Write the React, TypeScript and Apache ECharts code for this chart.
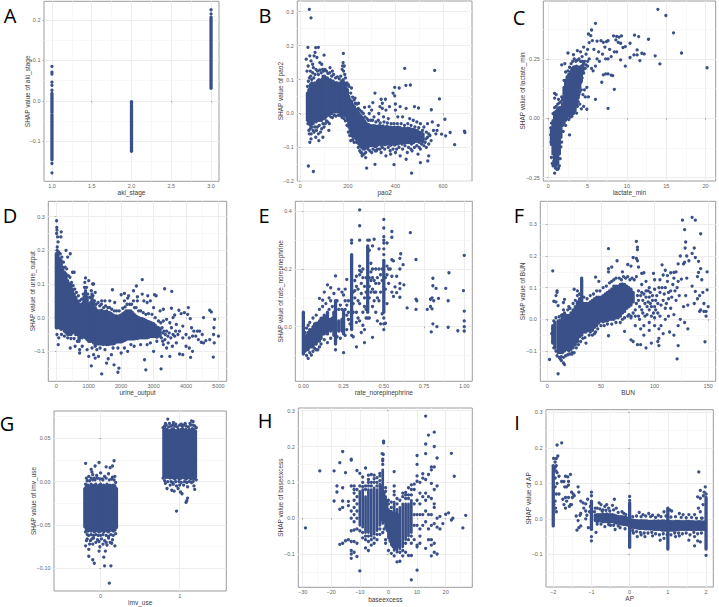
import React, { useEffect, useRef } from "react";
import * as echarts from "echarts";

// ---------- Panel titles and tick values ----------
const panelLetters = ["A", "B", "C", "D", "E", "F", "G", "H", "I"];
const xNames = ["aki_stage", "pao2", "lactate_min", "urine_output", "rate_norepinephrine", "BUN", "imv_use", "baseexcess", "AP"];
const yNames = xNames.map((n) => "SHAP value of " + n);

const xTicks = [
  [1, 1.5, 2, 2.5, 3],
  [0, 200, 400, 600],
  [0, 5, 10, 15, 20],
  [0, 1000, 2000, 3000, 4000, 5000],
  [0, 0.25, 0.5, 0.75, 1],
  [0, 50, 100, 150],
  [0, 1],
  [-30, -20, -10, 0, 10, 20],
  [-2, -1, 0, 1, 2],
];
const xMinor = [
  [1.25, 1.75, 2.25, 2.75],
  [100, 300, 500, 700],
  [2.5, 7.5, 12.5, 17.5],
  [500, 1500, 2500, 3500, 4500],
  [0.125, 0.375, 0.625, 0.875],
  [25, 75, 125],
  [],
  [-25, -15, -5, 5, 15, 25],
  [-1.5, -0.5, 0.5, 1.5],
];
const yTicks = [
  [-0.1, 0, 0.1, 0.2],
  [-0.2, -0.1, 0, 0.1, 0.2, 0.3],
  [-0.25, 0, 0.25],
  [-0.1, 0, 0.1, 0.2, 0.3],
  [0, 0.2, 0.4],
  [-0.1, 0, 0.1, 0.2, 0.3],
  [-0.1, -0.05, 0, 0.05],
  [-0.1, 0, 0.1, 0.2, 0.3],
  [-0.1, 0, 0.1, 0.2, 0.3],
];
const yMinor = [
  [-0.15, -0.05, 0.05, 0.15],
  [-0.15, -0.05, 0.05, 0.15, 0.25],
  [-0.125, 0.125, 0.375],
  [-0.15, -0.05, 0.05, 0.15, 0.25],
  [-0.1, 0.1, 0.3],
  [-0.15, -0.05, 0.05, 0.15, 0.25],
  [-0.075, -0.025, 0.025, 0.075],
  [-0.15, -0.05, 0.05, 0.15, 0.25],
  [-0.15, -0.05, 0.05, 0.15, 0.25],
];
const xDecimals = [1, 0, 0, 0, 2, 0, 0, 0, 0];
const yDecimals = [1, 1, 2, 1, 1, 1, 2, 1, 1];

// Axis ranges
const xRanges = [[0.9, 3.1], [-12.6, 722], [-0.64, 21.3], [-247, 5254], [-0.05, 1.05], [-6.6, 157], [-0.59, 1.59], [-31.5, 29.3], [-2.19, 2.19]];
const yRanges = [[-0.199, 0.246], [-0.2, 0.3316], [-0.264, 0.494], [-0.189, 0.3457], [-0.1893, 0.4347], [-0.1957, 0.3726], [-0.126, 0.0813], [-0.1928, 0.3075], [-0.192, 0.3073]];

// ---------- Dense clouds, as columns [x, low, high] ----------
const bandsA = [[1, -0.146, -0.034], [1, -0.028, 0.018], [2, -0.108, -0.012], [2, -0.125, -0.112], [2, -0.008, -0.002], [3, 0.031, 0.207]];
const bandsB = [
  [30, -0.02, 0.06], [36, -0.03, 0.07], [42, -0.035, 0.085], [48, -0.03, 0.09], [54, -0.03, 0.08], [60, -0.02, 0.09], [66, -0.025, 0.085], [72, -0.02, 0.095], [78, -0.02, 0.1], [84, -0.02, 0.095], [90, -0.02, 0.1],
  [96, -0.015, 0.11], [102, -0.015, 0.11], [108, -0.01, 0.105], [114, -0.005, 0.105], [120, -0.005, 0.095], [126, 0, 0.1], [132, 0, 0.095], [138, 0.005, 0.095], [144, 0.005, 0.09], [150, 0.005, 0.09],
  [156, 0.005, 0.09], [162, 0.005, 0.085], [168, 0.003, 0.09], [174, 0, 0.095], [180, -0.005, 0.1], [186, -0.005, 0.09], [192, -0.008, 0.085], [198, -0.02, 0.07], [204, -0.04, 0.05], [210, -0.055, 0.04], [216, -0.065, 0.035],
  [222, -0.07, 0.025], [228, -0.07, 0.02], [234, -0.075, 0.012], [240, -0.08, 0.008], [246, -0.09, 0], [252, -0.095, -0.005], [258, -0.1, -0.01], [264, -0.105, -0.015], [270, -0.105, -0.022], [276, -0.1, -0.028],
  [282, -0.097, -0.032], [288, -0.097, -0.033], [294, -0.094, -0.036], [300, -0.095, -0.037], [308, -0.095, -0.036], [316, -0.098, -0.037], [324, -0.094, -0.038], [332, -0.09, -0.036], [340, -0.094, -0.038], [348, -0.09, -0.037],
  [356, -0.092, -0.04], [364, -0.09, -0.038], [372, -0.09, -0.04], [380, -0.094, -0.04], [388, -0.09, -0.042], [396, -0.093, -0.04], [404, -0.09, -0.042], [412, -0.09, -0.04], [420, -0.087, -0.042], [428, -0.09, -0.045],
  [436, -0.086, -0.044], [444, -0.086, -0.045], [452, -0.086, -0.043], [460, -0.086, -0.045], [468, -0.09, -0.046], [476, -0.086, -0.047], [484, -0.082, -0.05], [492, -0.082, -0.05], [500, -0.085, -0.055], [508, -0.08, -0.056], [516, -0.084, -0.06],
];
const bandsC = [
  [0.4, -0.11, -0.04], [0.6, -0.15, -0.01], [0.8, -0.2, 0.025], [1, -0.2, 0.03], [1.2, -0.19, 0.04], [1.4, -0.15, 0.045], [1.6, -0.08, 0.045], [1.8, -0.03, 0.06], [2, -0.02, 0.13],
  [2.2, -0.008, 0.16], [2.4, 0.01, 0.175], [2.6, 0.012, 0.185], [2.8, 0.018, 0.195], [3, 0.02, 0.21], [3.2, 0.025, 0.215], [3.4, 0.032, 0.218], [3.6, 0.055, 0.22], [3.8, 0.085, 0.215], [4, 0.13, 0.215], [4.2, 0.155, 0.22], [4.4, 0.195, 0.225],
];
const bandsD = [
  [0, -0.03, 0.19], [50, -0.015, 0.19], [100, -0.03, 0.175], [150, -0.035, 0.17], [200, -0.03, 0.15], [250, -0.04, 0.135], [300, -0.045, 0.13], [350, -0.05, 0.11], [400, -0.05, 0.1], [450, -0.05, 0.1], [500, -0.045, 0.085], [550, -0.042, 0.07],
  [600, -0.05, 0.06], [650, -0.05, 0.05], [700, -0.07, 0.04], [750, -0.06, 0.038], [800, -0.06, 0.042], [850, -0.055, 0.06], [900, -0.06, 0.08], [950, -0.065, 0.06], [1000, -0.07, 0.04], [1050, -0.07, 0.045], [1100, -0.07, 0.07], [1150, -0.075, 0.05],
  [1200, -0.085, 0.03], [1250, -0.078, 0.022], [1300, -0.078, 0.02], [1350, -0.078, 0.02], [1400, -0.078, 0.022], [1450, -0.08, 0.018], [1500, -0.078, 0.018], [1550, -0.08, 0.02], [1600, -0.08, 0.016], [1650, -0.078, 0.015], [1700, -0.078, 0.012], [1750, -0.078, 0.008], [1800, -0.076, 0.005], [1850, -0.072, 0.005], [1900, -0.072, 0.004], [1950, -0.072, 0.006], [2000, -0.072, 0.008],
  [2050, -0.07, 0.012], [2100, -0.068, 0.015], [2150, -0.065, 0.02], [2200, -0.063, 0.02], [2250, -0.063, 0.02], [2300, -0.063, 0.02], [2350, -0.063, 0.015], [2400, -0.063, 0.01], [2450, -0.062, 0.005], [2500, -0.062, 0.002], [2550, -0.06, 0], [2600, -0.06, -0.003], [2650, -0.06, -0.003], [2700, -0.06, -0.005], [2750, -0.06, -0.007], [2800, -0.06, -0.01], [2850, -0.058, -0.012], [2900, -0.056, -0.014], [2950, -0.056, -0.016], [3000, -0.056, -0.018], [3050, -0.056, -0.022], [3100, -0.058, -0.028], [3150, -0.055, -0.03], [3200, -0.055, -0.033],
];
const bandsE = [
  [0, -0.095, 0.05], [0.01, -0.085, -0.04], [0.02, -0.08, -0.03], [0.03, -0.08, -0.02], [0.04, -0.07, -0.01], [0.05, -0.07, -0.01], [0.06, -0.07, 0], [0.07, -0.06, 0.01], [0.08, -0.06, 0.012], [0.09, -0.05, 0.012], [0.1, -0.05, 0.02],
  [0.11, -0.04, 0.03], [0.12, -0.025, 0.03], [0.13, -0.025, 0.04], [0.14, -0.015, 0.03], [0.15, -0.025, 0.05], [0.16, -0.01, 0.025], [0.17, -0.015, 0.025], [0.18, -0.01, 0.03], [0.19, -0.03, 0.05], [0.2, -0.06, 0.09],
  [0.22, -0.015, 0.02], [0.24, -0.015, 0.025], [0.25, -0.025, 0.055], [0.3, -0.01, 0.25], [0.4, 0.05, 0.28], [0.5, 0.05, 0.23],
];
const bandsF = [
  [5, -0.075, -0.02], [7, -0.09, -0.01], [10, -0.105, -0.005], [12, -0.105, -0.003], [14, -0.105, 0.015], [16, -0.1, 0.02], [18, -0.095, 0.012], [20, -0.1, 0.012], [22, -0.095, 0.02], [24, -0.09, 0.03], [26, -0.08, 0.04], [28, -0.07, 0.055], [30, -0.055, 0.065],
  [32, -0.05, 0.125], [34, -0.04, 0.05], [36, -0.04, 0.05], [38, -0.035, 0.05], [40, -0.04, 0.055], [42, -0.035, 0.06], [44, -0.025, 0.065], [46, -0.02, 0.07], [48, -0.012, 0.07], [50, -0.005, 0.07], [52, -0.008, 0.075], [54, -0.005, 0.08],
  [56, -0.005, 0.085], [58, 0, 0.09], [60, 0, 0.095], [62, 0, 0.105], [64, 0.005, 0.105], [66, 0.005, 0.105], [68, 0.01, 0.11], [70, 0.02, 0.112], [72, 0.025, 0.11], [74, 0.035, 0.105], [76, 0.04, 0.1], [78, 0.045, 0.095], [80, 0.055, 0.085],
];
const bandsG = [
  [-0.2, -0.052, -0.008], [-0.18, -0.056, -0.005], [-0.16, -0.057, -0.004], [-0.14, -0.056, -0.006], [-0.12, -0.057, -0.003], [-0.1, -0.056, -0.005], [-0.08, -0.058, -0.004], [-0.06, -0.056, -0.003], [-0.04, -0.057, -0.006], [-0.02, -0.058, -0.004], [0, -0.057, -0.003],
  [0.02, -0.056, -0.005], [0.04, -0.058, -0.004], [0.06, -0.056, -0.006], [0.08, -0.057, -0.003], [0.1, -0.058, -0.005], [0.12, -0.056, -0.004], [0.14, -0.056, -0.005], [0.16, -0.057, -0.004], [0.18, -0.056, -0.005], [0.2, -0.053, -0.008],
  [0.8, 0.006, 0.059], [0.82, 0.005, 0.061], [0.84, 0.005, 0.06], [0.86, 0.005, 0.058], [0.88, 0.004, 0.059], [0.9, 0.005, 0.06], [0.92, 0.004, 0.061], [0.94, 0.003, 0.059], [0.96, 0.005, 0.058], [0.98, 0.004, 0.06], [1, 0.003, 0.059],
  [1.02, 0.004, 0.06], [1.04, 0.005, 0.061], [1.06, 0.004, 0.059], [1.08, 0.003, 0.06], [1.1, 0.004, 0.058], [1.12, 0.005, 0.06], [1.14, 0.003, 0.059], [1.16, 0.004, 0.061], [1.18, 0.003, 0.06], [1.2, 0.005, 0.058],
];
const bandsH = [
  [-10, -0.02, 0.075], [-9, -0.025, 0.08], [-8, -0.04, 0.06], [-7, -0.04, 0.08], [-6, -0.05, 0.08], [-5, -0.045, 0.085], [-4, -0.035, 0.08], [-3, -0.02, 0.095], [-2.5, -0.005, 0.09], [-2, -0.015, 0.135], [-1.5, -0.01, 0.07], [-1, -0.025, 0.06], [-0.5, -0.035, 0.05],
  [0, -0.055, 0.025], [0.5, -0.065, 0.02], [1, -0.075, 0.02], [1.5, -0.08, 0.015], [2, -0.09, 0.045], [2.5, -0.085, 0.015], [3, -0.095, 0.025], [3.5, -0.08, 0.01], [4, -0.085, 0.03], [5, -0.08, 0.04], [6, -0.06, 0.04], [7, -0.05, 0.04], [8, -0.04, 0.05],
];
const bandsI = [
  [-2, -0.02, 0.15], [-1, -0.03, 0.05], [0, -0.08, 0.045], [1, -0.085, 0.03], [2, -0.085, 0.06],
  [-0.9, -0.005, 0.01], [-0.85, -0.008, 0.012], [-0.8, -0.006, 0.012], [-0.75, -0.006, 0.012], [-0.7, -0.008, 0.014], [-0.65, -0.008, 0.012], [-0.6, -0.008, 0.014], [-0.55, -0.008, 0.012], [-0.5, -0.008, 0.012], [-0.45, -0.008, 0.012], [-0.4, -0.01, 0.01], [-0.35, -0.012, 0.008], [-0.3, -0.012, 0.007], [-0.25, -0.014, 0.006], [-0.2, -0.015, 0.006], [-0.15, -0.016, 0.005], [-0.1, -0.016, 0.004], [-0.05, -0.018, 0.002],
  [0.05, -0.024, -0.003], [0.1, -0.024, -0.004], [0.15, -0.025, -0.005], [0.2, -0.026, -0.005], [0.25, -0.027, -0.006], [0.3, -0.027, -0.005], [0.35, -0.027, -0.006], [0.4, -0.028, -0.006], [0.45, -0.028, -0.006], [0.5, -0.028, -0.007], [0.55, -0.029, -0.007], [0.6, -0.029, -0.007], [0.65, -0.03, -0.006], [0.7, -0.03, -0.007], [0.75, -0.03, -0.006], [0.8, -0.03, -0.007], [0.85, -0.032, -0.006], [0.9, -0.032, -0.006], [0.95, -0.032, -0.007],
  [1.05, -0.032, -0.007], [1.1, -0.032, -0.008], [1.15, -0.032, -0.008], [1.2, -0.032, -0.007], [1.25, -0.03, -0.007], [1.3, -0.03, -0.007], [1.35, -0.03, -0.008], [1.4, -0.03, -0.008], [1.45, -0.03, -0.008], [1.5, -0.03, -0.007], [1.55, -0.03, -0.007], [1.6, -0.03, -0.008], [1.65, -0.03, -0.008], [1.7, -0.03, -0.009], [1.75, -0.03, -0.009], [1.8, -0.03, -0.008], [1.85, -0.03, -0.008], [1.9, -0.03, -0.009], [1.95, -0.03, -0.009],
];

// ---------- Individually visible points ----------
const pointsA = [[1, 0.085], [1, 0.071], [1, 0.066], [1, 0.046], [1, 0.038], [1, 0.026], [1, -0.155], [1, -0.178], [3, 0.225], [3, 0.215]];
const pointsB = [
  [38, 0.307], [45, 0.282], [32, 0.195], [65, 0.194], [76, 0.195], [34, -0.155], [55, -0.171], [439, 0.133], [565, 0.127], [181, 0.177], [585, 0.043], [444, 0.083], [463, 0.084], [416, 0.075], [397, 0.077], [314, 0.06], [390, 0.06], [397, 0.052],
  [608, -0.017], [649, -0.092], [690, -0.052], [692, -0.056], [630, -0.056], [611, -0.066], [594, -0.061], [279, -0.161], [314, -0.15], [394, -0.151], [468, -0.176], [505, -0.145], [536, -0.14], [551, 0.011], [25, 0.16], [33, 0.14], [40, 0.17], [45, 0.155], [52, 0.145],
  [58, 0.17], [62, 0.18], [70, 0.165], [82, 0.15], [90, 0.145], [100, 0.172], [42, 0.125], [55, 0.135], [28, 0.125], [125, 0.135], [135, 0.125], [180, 0.15], [185, 0.14], [40, -0.085], [45, -0.075], [78, -0.08], [95, -0.07], [65, -0.07], [120, -0.05],
  [305, 0.032], [290, 0.02], [335, 0.02], [345, 0.03], [358, 0.042], [340, 0.042], [345, 0.015], [360, 0.01], [375, 0.02], [400, 0.028], [400, 0.01], [410, -0.01], [420, 0.02], [445, 0.015], [480, 0.02], [497, 0.016], [430, -0.01], [460, -0.015], [475, -0.02],
  [490, -0.025], [505, -0.03], [520, -0.04], [535, -0.03], [555, -0.025], [580, -0.035], [560, -0.05], [570, -0.06], [575, -0.05], [545, -0.065], [550, -0.08], [540, -0.09], [530, -0.1], [540, -0.125], [505, -0.105], [495, -0.12], [470, -0.11], [450, -0.115], [445, -0.135], [420, -0.125],
  [400, -0.115], [380, -0.12], [360, -0.125], [340, -0.115], [320, -0.11], [300, -0.115], [275, -0.13], [260, -0.125], [255, -0.115], [290, 0], [310, -0.01], [330, 0], [350, -0.01], [370, -0.015], [270, 0.018], [245, 0.03], [230, 0.045], [215, 0.075], [205, 0.08], [300, 0.01],
  // fringe of the left cloud
  [30, 0.08], [34, 0.095], [38, 0.105], [44, 0.11], [48, 0.1], [52, 0.12], [57, 0.105], [62, 0.115], [66, 0.13], [72, 0.125], [76, 0.115], [82, 0.128], [88, 0.12], [94, 0.13], [98, 0.125], [104, 0.13], [110, 0.125], [116, 0.118], [124, 0.12], [132, 0.11], [140, 0.115], [148, 0.105], [156, 0.108], [164, 0.102], [170, 0.11], [176, 0.13], [178, 0.14], [182, 0.125], [187, 0.115], [190, 0.105], [196, 0.09], [202, 0.085],
  [212, 0.06], [220, 0.048], [226, 0.04], [232, 0.03], [238, 0.028], [244, 0.015], [250, 0.01], [258, 0.005], [265, 0], [272, -0.01], [280, -0.015], [286, -0.02], [296, -0.02], [304, -0.02], [318, -0.025], [328, -0.02], [336, -0.028], [352, -0.025], [366, -0.028], [382, -0.03], [394, -0.03], [408, -0.03], [424, -0.03], [438, -0.035], [452, -0.03], [466, -0.035], [482, -0.04], [498, -0.042], [514, -0.05], [530, -0.055], [540, -0.06],
  [32, -0.03], [36, -0.05], [38, -0.06], [42, -0.045], [46, -0.06], [50, -0.04], [54, -0.05], [58, -0.055], [62, -0.04], [68, -0.05], [72, -0.04], [76, -0.06], [80, -0.035], [85, -0.055], [90, -0.045], [95, -0.03], [100, -0.04], [105, -0.03], [110, -0.022], [115, -0.025], [122, -0.03], [128, -0.01], [135, -0.012], [143, -0.005], [150, -0.008], [160, -0.005], [168, -0.006], [176, -0.012], [184, -0.015], [190, -0.022], [196, -0.035], [202, -0.055], [208, -0.065], [212, -0.08], [220, -0.078], [226, -0.085], [236, -0.085], [244, -0.1], [250, -0.11], [256, -0.115], [262, -0.12], [268, -0.12], [275, -0.115],
  [284, -0.105], [292, -0.11], [306, -0.105], [315, -0.11], [325, -0.105], [335, -0.105], [345, -0.1], [355, -0.105], [370, -0.1], [378, -0.11], [390, -0.105], [405, -0.105], [415, -0.1], [430, -0.105], [440, -0.095], [455, -0.1], [465, -0.105], [480, -0.1], [490, -0.095], [500, -0.1], [510, -0.09], [520, -0.095], [528, -0.075], [535, -0.07], [525, -0.085],
];
const pointsC = [
  [13.94, 0.459], [14.96, 0.433], [15.93, 0.36], [16.95, 0.275], [20.2, 0.213], [14.2, 0.229], [13.6, 0.263], [12.75, 0.333], [10.97, 0.35], [11.5, 0.344], [10.4, 0.316], [10.4, 0.256], [10.9, 0.267], [11.3, 0.288], [11.3, 0.267], [11.9, 0.274], [12.2, 0.271], [11.65, 0.243],
  [9.8, 0.22], [9.2, 0.246], [9.8, 0.302], [9.5, 0.298], [9.2, 0.316], [9.3, 0.347], [9, 0.342], [8.7, 0.345], [8.3, 0.347], [8.6, 0.33], [8.9, 0.32], [8.4, 0.122], [7.6, 0.042], [6, 0.08], [6.8, 0.152], [7, 0.183], [7.3, 0.187], [7.6, 0.187], [8, 0.182], [8.2, 0.18],
  [6, 0.4], [5.5, 0.372], [5.1, 0.355], [5.4, 0.348], [5.6, 0.327], [5.2, 0.319], [6.2, 0.325], [6.7, 0.327], [7.4, 0.323], [7.6, 0.327], [7, 0.32], [7.8, 0.29], [8.4, 0.28], [8.7, 0.28], [8, 0.26], [7.6, 0.25], [7.3, 0.25], [6.2, 0.25], [6.5, 0.24], [6, 0.22], [5.5, 0.21], [5.7, 0.2],
  [5, 0.24], [5.2, 0.25], [4.8, 0.27], [4.5, 0.3], [5.8, 0.29], [6.4, 0.28], [6.9, 0.27], [7.2, 0.3], [5, 0.29], [4.3, 0.26], [2.5, 0.275], [3.2, 0.268], [3.7, 0.285], [4.1, 0.28], [1.7, 0.225], [2.1, 0.23], [0.8, 0.105], [1, 0.1], [0.8, 0.085], [1.3, 0.08], [1.7, 0.09],
  [4.6, 0.12], [4.9, 0.13], [4.4, 0.1], [4.7, 0.09], [4.9, 0.038], [4.5, 0.05], [4, 0.06], [4.2, 0.04], [3.6, 0.022], [3.2, 0.02], [5.1, 0.09], [2.2, -0.03], [2.7, -0.07], [1.9, -0.055], [0.3, -0.04], [0.35, -0.1], [0.4, -0.165], [0.5, -0.19], [0.8, -0.231], [0.6, -0.2], [1.2, -0.215], [1.4, -0.2],
  [2, 0.16], [2.2, 0.195], [2.5, 0.2], [2.7, 0.215], [2.9, 0.23], [3.1, 0.24], [3.3, 0.25], [3.5, 0.24], [3.7, 0.245], [3.9, 0.25], [4.1, 0.24], [4.3, 0.24], [4.5, 0.23], [4.6, 0.24], [4.8, 0.225], [5, 0.22], [4.7, 0.21], [4.5, 0.19], [4.3, 0.17], [4.1, 0.15], [3.9, 0.1], [3.8, 0.07], [3.7, 0.05], [4, 0.11], [4.2, 0.12],
  [1.8, 0.08], [1.6, 0.07], [1.4, 0.065], [1.2, 0.06], [1, 0.05], [0.8, 0.045], [0.6, 0.02], [0.4, -0.02], [0.3, -0.07], [2.4, 0], [2.8, 0.005], [3, 0.008], [2.6, -0.005], [1.7, -0.1], [1.6, -0.12], [1.5, -0.17], [1.3, -0.21], [1.1, -0.215], [0.9, -0.21], [0.7, -0.18],
];
const pointsD = [
  [10, 0.288], [15, 0.268], [20, 0.26], [10, 0.25], [40, 0.24], [150, 0.255], [140, 0.24], [55, 0.225], [30, 0.21], [300, 0.2], [430, 0.19], [350, 0.18], [500, 0.135], [550, 0.135], [900, 0.118], [880, 0.105], [1120, 0.1], [1150, 0.1], [1200, 0.075], [1000, 0.11],
  [2650, 0.113], [3340, 0.086], [3560, 0.078], [2470, 0.094], [2380, 0.08], [1730, 0.083], [2100, 0.072], [2000, 0.068], [2230, 0.065], [2500, 0.062], [2650, 0.07], [2820, 0.065], [3030, 0.068], [3080, 0.065], [2700, 0.05], [2380, 0.05], [2500, 0.05], [2900, 0.05], [2200, 0.058],
  [2800, 0.045], [2100, 0.05], [1400, 0.05], [1500, 0.05], [1650, 0.05], [1800, 0.045], [3300, 0.025], [3550, 0.028], [3780, 0.022], [4070, 0.03], [4730, 0.022], [4780, 0.017], [3200, 0.02], [3000, 0.03], [3650, 0.008], [3850, 0.012], [3950, 0.015], [4050, 0.01], [4130, -0.003], [4540, 0], [4880, -0.005], [3600, 0],
  [3400, -0.005], [3300, -0.01], [3500, -0.015], [3700, -0.02], [3900, -0.025], [3800, -0.04], [4000, -0.05], [3550, -0.03], [4170, -0.03], [4240, -0.04], [4350, -0.04], [4420, -0.04], [4500, -0.05], [4380, -0.065], [4300, -0.055], [4200, -0.055], [4100, -0.06], [3900, -0.06], [3750, -0.05], [3650, -0.055], [4610, -0.068], [4540, -0.075], [4470, -0.073], [4730, -0.065],
  [4860, -0.03], [4850, -0.05], [5000, -0.055], [4870, -0.075], [4840, -0.117], [3250, -0.115], [3500, -0.115], [3800, -0.108], [3900, -0.11], [4140, -0.118], [4200, -0.1], [4000, -0.085], [4100, -0.09], [3400, -0.09], [3300, -0.08], [3100, -0.07], [3000, -0.1],
  [1400, -0.167], [2720, -0.125], [2760, -0.155], [3230, -0.152], [1080, -0.143], [1600, -0.122], [1780, -0.14], [1930, -0.15], [1900, -0.162], [1550, -0.135], [1300, -0.115], [1000, -0.115], [1150, -0.11], [1200, -0.12], [1700, -0.11], [2000, -0.105], [2200, -0.1], [430, -0.09], [580, -0.085], [60, -0.08], [75, -0.06], [2400, -0.085], [2600, -0.08], [2800, -0.08], [2900, -0.075],
  // fringe of the cloud
  [25, 0.2], [70, 0.195], [120, 0.19], [170, 0.18], [220, 0.165], [270, 0.15], [320, 0.145], [370, 0.125], [420, 0.12], [470, 0.105], [520, 0.095], [570, 0.085], [620, 0.075], [680, 0.065], [720, 0.05], [780, 0.055], [830, 0.07], [870, 0.09], [930, 0.09], [970, 0.07], [1030, 0.06], [1080, 0.08], [1130, 0.065], [1180, 0.05], [1230, 0.04], [1290, 0.045], [1340, 0.035], [1390, 0.04], [1460, 0.03], [1520, 0.035], [1590, 0.03], [1640, 0.03], [1710, 0.025], [1790, 0.02], [1860, 0.02], [1940, 0.02], [2050, 0.028], [2120, 0.032], [2180, 0.04], [2260, 0.04], [2320, 0.04], [2410, 0.03], [2460, 0.03], [2540, 0.02], [2600, 0.02], [2680, 0.015], [2760, 0.01], [2840, 0.012], [2950, 0.01], [3050, 0], [3150, -0.01], [3220, -0.015],
  [3260, -0.03], [3290, -0.045], [3320, -0.04], [3360, -0.05], [3400, -0.04], [3440, -0.055], [3480, -0.045], [3530, -0.06], [3600, -0.05], [3680, -0.04], [3240, -0.06], [3280, -0.07], [3350, -0.065], [3450, -0.075], [3580, -0.085], [3700, -0.075], [2300, -0.08], [2100, -0.09], [1900, -0.09], [1750, -0.09], [1500, -0.095], [1350, -0.09], [1250, -0.095], [1100, -0.09], [950, -0.095], [800, -0.085], [720, -0.105], [720, -0.095], [650, -0.07], [550, -0.062], [450, -0.062], [350, -0.06], [250, -0.055], [160, -0.05], [40, -0.03], [20, -0.05],
];
const pointsE = [
  [0.35, 0.405], [0.35, 0.35], [0.35, 0.3], [0.5, 0.372], [0.5, 0.342], [0.5, 0.312], [0.5, 0.3], [0.5, 0.29], [0.55, 0.33], [0.55, 0.31], [0.665, 0.326], [0.3, 0.3], [0.3, 0.29], [0.41, 0.3], [0.44, 0.303], [0.43, 0.28], [0.47, 0.27], [0.52, 0.29], [0.605, 0.253], [0.6, 0.237], [0.55, 0.232], [0.56, 0.228], [0.7, 0.233],
  [0.62, 0.215], [0.6, 0.2], [0.58, 0.175], [0.55, 0.175], [0.54, 0.2], [0.52, 0.21], [0.6, 0.15], [0.625, 0.145], [0.6, 0.132], [0.58, 0.118], [0.57, 0.138], [0.56, 0.105], [0.6, 0.102], [0.645, 0.065], [0.7, 0.095], [0.7, 0.06], [0.705, 0.09], [0.77, 0.06], [0.79, 0.095], [0.8, 0.1], [0.79, 0.07], [0.81, 0.09], [0.8, 0.062], [0.84, 0.098],
  [0.805, 0.168], [0.805, 0.142], [0.825, 0.133], [0.885, 0.133], [0.905, 0.187], [0.995, 0.125], [1, 0.247], [1, 0.054], [0.9, 0.09], [1, 0.02], [1, 0], [0.9, -0.002], [0.805, 0.01], [0.83, 0], [0.795, -0.018], [0.96, -0.014], [1, -0.015],
  [0.41, 0.265], [0.42, 0.22], [0.45, 0.2], [0.47, 0.2], [0.37, 0.2], [0.33, 0.175], [0.34, 0.13], [0.36, 0.115], [0.38, 0.14], [0.32, 0.16], [0.27, 0.164], [0.26, 0.13], [0.2, 0.176], [0.15, 0.145], [0.17, 0.135], [0.13, 0.12], [0.22, 0.13], [0.24, 0.12], [0.1, 0.098], [0.12, 0.092], [0.16, 0.1], [0.19, 0.115], [0.25, 0.11], [0.28, 0.09], [0.27, 0.075],
  [0.35, 0.08], [0.37, 0.05], [0.39, 0.03], [0.35, 0.02], [0.37, 0.005], [0.36, -0.02], [0.38, -0.01], [0.43, -0.037], [0.34, 0.03], [0.33, -0.07], [0.38, -0.055], [0.25, -0.09], [0.31, -0.035], [0.45, 0.05], [0.46, 0.02], [0.48, 0.01], [0.51, 0.012], [0.49, 0.045], [0.43, 0.07], [0.47, 0.09], [0.41, 0.03], [0.55, 0.12], [0.53, 0.15], [0.03, -0.11], [0.05, -0.098], [0.09, -0.08],
  // cloud around the 0.3 / 0.4 / 0.5 columns
  [0.35, 0.21], [0.35, 0.195], [0.35, 0.18], [0.36, 0.19], [0.33, 0.14], [0.32, 0.1], [0.32, 0.125], [0.34, 0.09], [0.36, 0.15], [0.37, 0.17], [0.38, 0.1], [0.38, 0.07], [0.39, 0.12], [0.39, 0.17], [0.39, 0.06], [0.41, 0.17], [0.41, 0.14], [0.41, 0.1], [0.42, 0.19], [0.42, 0.16], [0.42, 0.12], [0.43, 0.2], [0.43, 0.17], [0.43, 0.13], [0.44, 0.16], [0.44, 0.12], [0.44, 0.09], [0.45, 0.15], [0.45, 0.12], [0.46, 0.17], [0.46, 0.1], [0.47, 0.15], [0.48, 0.18], [0.48, 0.12], [0.49, 0.16], [0.49, 0.2], [0.51, 0.17], [0.51, 0.13], [0.52, 0.18], [0.52, 0.08], [0.53, 0.2], [0.5, 0.03], [0.5, 0.01], [0.5, -0.01], [0.5, 0.25], [0.5, 0.27], [0.4, 0.03], [0.4, 0.3], [0.31, 0.12], [0.31, 0.08], [0.31, 0.05], [0.33, 0.05], [0.33, 0.015], [0.28, 0.05], [0.28, 0.025], [0.27, 0.04], [0.26, 0.06], [0.26, 0.09], [0.24, 0.06], [0.23, 0.075], [0.22, 0.06], [0.21, 0.09], [0.18, 0.07], [0.17, 0.09], [0.16, 0.06], [0.14, 0.08], [0.12, 0.07], [0.1, 0.06], [0.08, 0.04], [0.06, 0.03], [0.04, 0.015], [0.03, 0.005], [0.02, -0.005], [0.01, -0.02],
  [0.27, -0.01], [0.26, -0.03], [0.23, -0.04], [0.21, -0.035], [0.2, -0.08], [0.17, -0.04], [0.15, -0.055], [0.13, -0.045], [0.11, -0.06], [0.1, -0.07], [0.08, -0.08], [0.07, -0.075], [0.06, -0.085], [0.04, -0.09], [0.02, -0.1], [0.3, -0.03], [0.29, 0.01],
];
const pointsF = [
  [5, 0.153], [8, 0.075], [9, 0.09], [9, 0.085], [6, 0.057], [10, 0.043], [8, 0.055], [16, 0.063], [15, 0.053], [20, 0.04], [25, 0.095], [28, 0.09], [2, -0.127], [10, -0.172], [13, -0.13], [15, -0.138], [16, -0.143], [12, -0.125], [23, -0.105], [32, 0.13],
  [57, 0.223], [65, 0.185], [60, 0.165], [83, 0.246], [84, 0.228], [84, 0.22], [80, 0.195], [83, 0.192], [84, 0.185], [75, 0.173], [78, 0.168], [85, 0.165], [57, 0.16], [57, 0.15], [70, 0.15], [45, 0.133], [48, 0.12], [88, 0.145], [90, 0.147], [100, 0.125], [99, 0.145],
  [107, 0.172], [110, 0.155], [108, 0.14], [112, 0.138], [115, 0.147], [118, 0.148], [105, 0.125], [120, 0.15], [126, 0.313], [128, 0.283], [129, 0.244], [128.5, 0.225], [130, 0.2], [124, 0.2], [132, 0.185], [122, 0.175], [127, 0.175], [128, 0.18], [130, 0.13], [125, 0.127], [118, 0.13], [122, 0.12],
  [135, 0.322], [138, 0.313], [137, 0.225], [135, 0.208], [138, 0.195], [141, 0.183], [143, 0.27], [143, 0.16], [141, 0.148], [140, 0.135], [144, 0.125], [149, 0.15], [149, 0.093], [138, 0.088], [135, 0.105], [129, 0.075], [123, 0.075], [115, 0.09], [110, 0.1], [95, 0.1], [92, 0.09], [88, 0.085],
  [145, 0.085], [142, 0.075], [140, 0.065], [146, 0.05], [150, 0.04], [143, 0.03], [146, 0.025], [148, 0.025], [148, 0.01], [142, 0.025], [137, 0.05], [131, 0.045], [127, 0.04], [115, 0.035], [113, 0.01], [118, 0.015], [124, 0], [122, -0.02], [128, -0.01], [131, -0.03], [147, -0.071], [122, -0.083], [121, -0.125],
  [108, -0.045], [114, -0.04], [118, -0.05], [104, -0.06], [103, -0.07], [104, -0.083], [97, -0.075], [92, -0.09], [87, -0.08], [84, -0.08], [80, -0.07], [78, -0.065], [72, -0.038], [57, -0.052], [36, -0.075], [45, -0.04], [90, -0.05], [90, -0.02], [95, -0.01], [100, 0.005], [105, 0.01], [110, 0], [85, 0.01], [88, 0.03], [93, 0.04], [98, 0.06], [103, 0.05], [108, 0.06], [113, 0.065], [120, 0.06], [105, 0.085], [95, 0.07], [85, 0.06], [82, -0.02], [87, -0.03], [95, -0.035],
  // cloud edges and the thinning tail
  [6, -0.005], [8, 0.005], [11, 0.008], [13, 0.012], [15, 0.03], [19, 0.03], [21, 0.035], [24, 0.05], [26, 0.06], [28, 0.075], [30, 0.08], [34, 0.07], [37, 0.065], [40, 0.075], [43, 0.08], [46, 0.09], [49, 0.09], [52, 0.1], [55, 0.105], [58, 0.115], [60, 0.12], [62, 0.125], [64, 0.13], [67, 0.13], [69, 0.125], [71, 0.135], [73, 0.13], [75, 0.135], [77, 0.125], [79, 0.13], [81, 0.125], [83, 0.135],
  [4, -0.045], [5, -0.07], [6, -0.09], [8, -0.1], [9, -0.115], [11, -0.12], [13, -0.118], [15, -0.12], [17, -0.115], [19, -0.112], [21, -0.11], [23, -0.11], [25, -0.105], [27, -0.09], [29, -0.08], [31, -0.07], [33, -0.06], [35, -0.058], [39, -0.05], [42, -0.05], [44, -0.045], [47, -0.03], [50, -0.02], [53, -0.02], [56, -0.015], [60, -0.015], [64, -0.01], [68, -0.01], [70, 0], [72, 0.005], [75, 0.01], [78, 0.01], [80, 0.02],
  [82, 0.03], [83, 0.05], [84, 0.075], [85, 0.09], [86, 0.04], [87, 0.075], [88, 0.11], [89, 0.02], [89, 0.06], [90, 0.08], [91, 0.01], [91, 0.05], [92, 0.07], [92, 0.12], [93, 0.015], [94, 0.055], [94, 0.09], [95, 0.03], [96, 0.05], [96, 0.085], [97, 0.01], [97, 0.04], [98, 0.075], [99, 0.02], [100, 0.04], [100, 0.095], [101, 0.06], [101, 0.03], [102, 0.075], [103, 0.02], [104, 0.1], [106, 0.045], [107, 0.1], [109, 0.08], [110, 0.035], [111, 0.05], [112, 0.12], [113, 0.085], [116, 0.07], [117, 0.11], [119, 0.09], [121, 0.1], [106, -0.02], [104, -0.03], [100, -0.02], [78, 0.005], [76, 0.015], [82, 0.01], [86, 0],
];
const pointsG = [
  [-0.19, 0.021], [-0.12, 0.014], [-0.07, 0.018], [-0.02, 0.022], [0.07, 0.017], [0.15, 0.018], [0.17, 0.024], [-0.11, 0.011], [0.12, 0.016], [-0.15, 0.006], [-0.1, 0.008], [-0.05, 0.007], [0, 0.01], [0.05, 0.006], [0.1, 0.009], [0.18, 0.006], [-0.18, 0.004], [-0.08, 0.004], [0.02, 0.003], [0.14, 0.003],
  [-0.17, -0.066], [-0.13, -0.068], [-0.09, -0.065], [-0.04, -0.067], [0.01, -0.066], [0.05, -0.068], [0.1, -0.065], [0.15, -0.067], [-0.19, -0.074], [-0.14, -0.072], [-0.1, -0.072], [-0.06, -0.07], [-0.01, -0.075], [0.03, -0.072], [0.08, -0.073], [0.12, -0.07], [0.18, -0.074], [-0.02, -0.08], [0.06, -0.08], [-0.15, -0.078],
  [-0.15, -0.086], [-0.1, -0.09], [-0.08, -0.094], [0.04, -0.087], [0.05, -0.097], [0.13, -0.097], [0.11, -0.117],
  [0.85, 0.072], [1.15, 0.07], [0.92, 0.068], [1.17, 0.069], [0.95, 0.066], [1.02, 0.066], [1.07, 0.067], [1.13, 0.067], [0.82, 0.067], [0.87, 0.067],
  [0.82, -0.002], [0.88, -0.004], [0.92, -0.003], [0.96, -0.005], [1, -0.004], [1.05, -0.004], [1.1, -0.006], [1.18, -0.005], [0.84, -0.008], [0.9, -0.01], [0.93, -0.011], [0.98, -0.008], [1.01, -0.012], [1.03, -0.014], [1.19, -0.009],
  [1.1, -0.019], [1.09, -0.022], [1.08, -0.024], [0.96, -0.034],
  // fuzzy tops and bottoms of the two clouds
  [-0.19, -0.003], [-0.17, 0.001], [-0.14, 0.001], [-0.12, 0.004], [-0.1, 0.002], [-0.07, 0.002], [-0.04, 0.004], [-0.01, 0.003], [0.03, 0.002], [0.07, 0.004], [0.11, 0.002], [0.15, 0.005], [0.17, 0.002], [0.19, -0.001],
  [-0.19, -0.058], [-0.17, -0.061], [-0.15, -0.062], [-0.12, -0.061], [-0.09, -0.062], [-0.06, -0.061], [-0.03, -0.062], [0, -0.062], [0.03, -0.061], [0.07, -0.062], [0.1, -0.063], [0.13, -0.061], [0.16, -0.062], [0.19, -0.06], [-0.18, -0.068], [-0.11, -0.066], [-0.02, -0.069], [0.07, -0.07], [0.14, -0.071],
  [0.79, 0.062], [0.81, 0.064], [0.83, 0.065], [0.86, 0.063], [0.89, 0.064], [0.91, 0.065], [0.94, 0.064], [0.97, 0.063], [1, 0.065], [1.03, 0.064], [1.05, 0.065], [1.08, 0.064], [1.11, 0.063], [1.14, 0.065], [1.17, 0.065], [1.19, 0.064], [1.21, 0.062],
  [0.79, 0.004], [0.81, 0.001], [0.85, 0], [0.89, 0], [0.91, -0.001], [0.95, 0], [0.99, 0], [1.02, -0.001], [1.06, 0], [1.09, -0.001], [1.12, 0], [1.15, -0.001], [1.17, 0], [1.21, 0.002],
];
const pointsH = [
  [-29, -0.027], [-24, 0.132], [-19, 0.132], [-16, 0.186], [-17, 0.155], [-15, 0.127], [-13, 0.165], [-13, 0.162], [-11, 0.133], [-10, 0.125], [-8, 0.14], [-9, 0.115], [-7, 0.12], [-6, 0.122], [-5, 0.12], [-18, 0.09], [-18, 0.073], [-16, 0.085], [-19, 0.048], [-16, 0.048], [-14, 0.047], [-17, 0.025], [-16, 0.03], [-14, 0.035],
  [-13, 0.09], [-12, 0.09], [-12, 0.08], [-12, 0.07], [-11, 0.08], [-11, 0.06], [-12, 0.05], [-12, 0.03], [-12, 0.01], [-13, 0.02], [-13, 0], [-12, -0.01], [-11, 0], [-11, 0.02], [-11, 0.04], [-11, -0.03], [-12, -0.033], [-13, -0.035], [-17, -0.073], [-16, -0.07], [-15, -0.063], [-14, -0.06], [-13, -0.065], [-12, -0.065], [-11, -0.07],
  [-13, -0.09], [-13, -0.1], [-13, -0.112], [-12, -0.095], [-11, -0.107], [-9, -0.055], [-8, -0.083], [-7, -0.09], [-6, -0.075], [-5, -0.07], [-10, -0.147], [-4, -0.06], [-3, -0.045], [-2, -0.04], [-2, 0.15], [-2, 0.16], [-2, 0.165], [-2.2, 0.18], [-1.8, 0.178], [-1.7, 0.21], [-1.7, 0.215],
  [2, 0.13], [2, 0.09], [2, 0.075], [2, 0.065], [13, 0.285], [16, 0.24], [14, 0.232], [16, 0.2], [13, 0.207], [13, 0.18], [10, 0.175], [17, 0.168], [10, 0.15], [15, 0.143], [16, 0.143], [15, 0.135], [22, 0.181], [23, 0.117], [10, 0.118], [12, 0.124], [14, 0.122], [12, 0.112], [13, 0.108],
  [15, 0.097], [17, 0.09], [16, 0.08], [10, 0.103], [11, 0.1], [9, 0.095], [8, 0.093], [7, 0.085], [6, 0.072], [5, 0.07], [9, 0.08], [11, 0.07], [13, 0.07], [15, 0.055], [14, 0.06], [12, 0.06], [13, 0.05], [10, 0.05], [11, 0.04], [9, 0.04], [16, 0.04], [16, 0.03], [15, 0.01], [17, 0], [21, 0.015], [20, 0.011], [18, 0.005], [22, -0.005], [22.5, 0], [27, 0.008],
  [26, -0.027], [19, -0.015], [18, -0.03], [17, -0.025], [16, -0.015], [15, -0.02], [13, -0.01], [14, -0.03], [12, -0.02], [11, -0.03], [10, -0.02], [9, -0.02], [10, 0.01], [9, 0.01], [11, 0.01], [12, 0.01], [13, 0.02], [14, 0.01], [11, -0.05], [9, -0.06], [8, -0.07], [10, -0.075], [11, -0.07], [15, -0.06], [16, -0.07], [15, -0.075],
  [14, -0.06], [13, -0.084], [10, -0.08], [16, -0.095], [17, -0.1], [15, -0.105], [8, -0.104], [7, -0.104], [6, -0.095], [5, -0.105], [4, -0.12], [3, -0.122], [2, -0.105], [8, -0.172], [10, -0.145], [-1, -0.06], [-1, -0.07], [0, -0.09], [1, -0.098], [-1.5, -0.03],
  // broken column ends on the left of the cloud
  [-10, 0.09], [-10, -0.035], [-9, 0.1], [-9, 0.088], [-9, -0.04], [-8, 0.08], [-8, 0.09], [-8, -0.05], [-8, -0.06], [-7, 0.1], [-7, 0.09], [-7, 0.108], [-7, -0.05], [-7, -0.065], [-6, 0.1], [-6, 0.09], [-6, -0.06], [-5, 0.1], [-5, 0.11], [-5, -0.055], [-4, 0.09], [-4, 0.1], [-4, 0.113], [-4, -0.045], [-3, 0.105], [-3, 0.118], [-3, 0.125], [-3, -0.03], [-1, 0.075], [-1, 0.085], [0, 0.04], [0, 0.05], [1, 0.03], [1, 0.045], [3, 0.04], [3, 0.055], [4, 0.05], [5, 0.06], [6, 0.055], [6, 0.065], [7, 0.055], [7, 0.065], [8, 0.065], [8, 0.08], [8, -0.05], [7, -0.06], [6, -0.07], [5, -0.09], [4, -0.095],
];
const pointsI = [
  [-1.9, 0.208], [-1.78, 0.214], [-1.99, 0.17], [-1.88, 0.177], [-1.92, 0.17], [-1.95, 0.16], [-1.9, 0.13], [-1.98, 0.14], [-1.95, 0.145], [-1.92, 0.15], [-1.93, 0.135], [-1.85, 0.12], [-1.95, 0.115], [-1.9, 0.1], [-1.95, 0.09], [-1.85, 0.07], [-1.92, 0.07], [-1.95, 0.05], [-1.98, 0.04], [-1.94, 0.03], [-1.92, 0.02],
  [-1.78, 0.105], [-1.72, 0.105], [-1.68, 0.12], [-1.62, 0.118], [-1.55, 0.125], [-1.6, 0.105], [-1.65, 0.09], [-1.7, 0.09], [-1.6, 0.095], [-1.68, 0.06], [-1.75, 0.055], [-1.72, 0.04], [-1.68, 0.03], [-1.65, 0.05], [-1.6, 0.06], [-1.58, 0.035], [-1.55, 0.04], [-1.52, 0.04], [-1.52, 0.075], [-1.48, 0.07], [-1.45, 0.065], [-1.5, 0.06],
  [-1.35, 0.09], [-1.33, 0.075], [-1.28, 0.05], [-1.22, 0.045], [-1.15, 0.042], [-1.1, 0.055], [-1.2, 0.03], [-1.28, 0.015], [-1.35, -0.005], [-1.33, -0.025], [-1.28, -0.02], [-1.38, -0.032], [-1.3, 0.01], [-1.4, 0.008], [-1.12, 0.01], [-1.15, 0.022], [-1.05, 0.02], [-1.08, -0.025], [-1.15, 0], [-1.03, 0.035],
  [-1, 0.075], [-1, 0.065], [-1, -0.05], [-1, -0.062], [-0.88, -0.038], [-0.9, 0.03], [-0.8, 0.045], [-0.75, 0.04], [-0.65, 0.035], [-0.4, 0.055], [-0.55, 0.03], [-0.6, 0.04], [-0.45, 0.038], [-0.35, 0.03], [-0.7, 0.025], [-0.2, 0.02], [-0.15, 0.015], [-0.65, -0.022], [-0.38, -0.03], [-0.25, -0.025], [-0.5, -0.018],
  [0, 0.063], [0, 0.052], [0.25, 0.018], [0.5, 0.015], [0.35, 0.012], [0.6, 0.01], [0.75, 0.01], [0.9, 0.02], [1.05, 0.025], [1.1, 0.022], [1.3, 0.015], [1.4, 0.012], [1.55, 0.012], [1.7, 0.012], [0.1, -0.04], [0.3, -0.045], [0.4, -0.05], [0.6, -0.048], [0.8, -0.06], [0.9, -0.055], [1.2, -0.05], [1.3, -0.048], [1.55, -0.06], [1.7, -0.076], [1.78, -0.062], [1.85, -0.065], [1.7, -0.05], [0.2, -0.05],
  [1.81, 0.132], [1.98, 0.09], [1.85, 0.08], [1.95, 0.075], [1.93, 0.065], [1.78, 0.062], [1.85, 0.058], [1.92, 0.04], [1.85, 0.02], [1.8, 0.03], [2, 0.07], [2, -0.103], [1.88, 0.002],
  // fringe around the horizontal cloud
  [-0.92, 0.02], [-0.85, 0.03], [-0.78, 0.028], [-0.72, 0.022], [-0.62, 0.024], [-0.52, 0.022], [-0.42, 0.025], [-0.3, 0.018], [-0.1, 0.012], [-0.85, -0.015], [-0.75, -0.015], [-0.55, -0.016], [-0.42, -0.018], [-0.3, -0.02], [-0.12, -0.028], [0.08, -0.033], [0.18, -0.036], [0.28, -0.038], [0.38, -0.04], [0.48, -0.04], [0.58, -0.038], [0.68, -0.042], [0.78, -0.045], [0.88, -0.042], [0.98, -0.045], [1.08, -0.045], [1.18, -0.04], [1.28, -0.04], [1.38, -0.042], [1.48, -0.04], [1.58, -0.045], [1.68, -0.038], [1.78, -0.042], [1.88, -0.04],
  [0.08, 0.006], [0.18, 0.008], [0.3, 0.006], [0.42, 0.008], [0.55, 0.006], [0.68, 0.004], [0.82, 0.006], [0.95, 0.008], [1.08, 0.005], [1.2, 0.006], [1.35, 0.004], [1.48, 0.003], [1.62, 0.004], [1.75, 0.002], [1.9, 0.002],
];
const allBands = [bandsA, bandsB, bandsC, bandsD, bandsE, bandsF, bandsG, bandsH, bandsI];
const allPoints = [pointsA, pointsB, pointsC, pointsD, pointsE, pointsF, pointsG, pointsH, pointsI];

// ---------- Layout and style ----------
const plotRects = [
  [44, 1.3, 175, 180], [297.3, 1, 174.7, 180.3], [543.3, 1, 172.4, 180], [48.3, 201.3, 178.4, 180], [295.3, 201.3, 177, 180], [540.3, 201.3, 175.4, 180],
  [54, 411, 172.3, 180.3], [298.3, 408, 174, 179.3], [546, 409.7, 167.3, 177.3],
];
const letterPos = [[10, 15.5], [265, 15.5], [519, 17.5], [10, 215.5], [264, 215.5], [519, 215.5], [7, 423], [265, 420.5], [517, 422.5]];
const xNameGap = [8, 8, 8, 8, 8, 8, 8, 8.5, 8];
const yNameGap = [13.5, 13, 17, 12, 11, 14, 17.5, 14, 14];
const bandWidth = [3.3, 3.3, 3.3, 3.3, 3.3, 3.3, 3.3, 2.7, 3.3];
const DOT = "#3A5088";
const DOT_SIZE = 3.3;
const TICK_TEXT = "#666666";
const NAME_TEXT = "#3d3d3d";
const BORDER = "#9c9c9c";
const MAJOR = "#ededed";
const MINOR = "#f5f5f5";
const FONT = "Liberation Sans";

function fmt(v: number, d: number) {
  const s = Math.abs(v).toFixed(d);
  return Math.abs(v) < 1e-9 ? s : (v < 0 ? "\u2212" : "") + s;
}

function buildOption() {
  const grid: any[] = [];
  const xAxis: any[] = [];
  const yAxis: any[] = [];
  const series: any[] = [];
  panelLetters.forEach((_, i) => {
    const [l, t, w, h] = plotRects[i];
    grid.push({ left: l, top: t, width: w, height: h, show: true, borderColor: BORDER, borderWidth: 1, backgroundColor: "#fff" });
    const label = (d: number, vals: number[], margin: number) => ({
      customValues: vals, fontSize: 5.5, color: TICK_TEXT, fontFamily: FONT, margin, hideOverlap: false, formatter: (v: number) => fmt(v, d),
    });
    xAxis.push(
      { type: "value", gridIndex: i, min: xRanges[i][0], max: xRanges[i][1], name: xNames[i], nameLocation: "middle", nameGap: xNameGap[i], nameMoveOverlap: false, nameTextStyle: { fontSize: 6.5, color: NAME_TEXT, fontFamily: FONT },
        axisLine: { show: false }, axisTick: { show: true, customValues: xTicks[i], length: 1.5, lineStyle: { color: "#777", width: 0.6 } }, axisLabel: label(xDecimals[i], xTicks[i], 2), splitLine: { show: true, lineStyle: { color: MAJOR, width: 1 } } },
      { type: "value", gridIndex: i, min: xRanges[i][0], max: xRanges[i][1], axisLine: { show: false }, axisLabel: { show: false }, axisTick: { show: false, customValues: xMinor[i] }, splitLine: { show: xMinor[i].length > 0, lineStyle: { color: MINOR, width: 0.7 } } }
    );
    yAxis.push(
      { type: "value", gridIndex: i, min: yRanges[i][0], max: yRanges[i][1], name: yNames[i], nameLocation: "middle", nameGap: yNameGap[i], nameMoveOverlap: false, nameRotate: 90, nameTextStyle: { fontSize: 6.5, color: NAME_TEXT, fontFamily: FONT },
        axisLine: { show: false }, axisTick: { show: true, customValues: yTicks[i], length: 1.5, lineStyle: { color: "#777", width: 0.6 } }, axisLabel: label(yDecimals[i], yTicks[i], 3.5), splitLine: { show: true, lineStyle: { color: MAJOR, width: 1 } } },
      { type: "value", gridIndex: i, min: yRanges[i][0], max: yRanges[i][1], axisLine: { show: false }, axisLabel: { show: false }, axisTick: { show: false, customValues: yMinor[i] }, splitLine: { show: true, lineStyle: { color: MINOR, width: 0.7 } } }
    );
    series.push({
      type: "custom", xAxisIndex: 2 * i, yAxisIndex: 2 * i, data: allBands[i], silent: true, clip: true,
      encode: { x: 0, y: [1, 2] },
      renderItem: (_p: any, api: any) => {
        const a = api.coord([api.value(0), api.value(1)]);
        const b = api.coord([api.value(0), api.value(2)]);
        return { type: "line", shape: { x1: a[0], y1: a[1], x2: b[0], y2: b[1] }, style: { stroke: DOT, lineWidth: bandWidth[i], lineCap: "round", fill: "none" } };
      },
    });
    series.push({ type: "scatter", xAxisIndex: 2 * i, yAxisIndex: 2 * i, data: allPoints[i], symbol: "circle", symbolSize: DOT_SIZE, itemStyle: { color: DOT, opacity: 1 }, silent: true });
  });
  const graphic = panelLetters.map((letter, i) => ({
    type: "text", x: letterPos[i][0], y: letterPos[i][1], style: { text: letter, fontSize: 20, fontFamily: "Open Sans", fill: "#000", align: "center", verticalAlign: "middle" },
  }));
  return { animation: false, backgroundColor: "#fff", grid, xAxis, yAxis, series, graphic };
}

export default function App() {
  const ref = useRef<HTMLDivElement>(null);
  useEffect(() => {
    const chart = echarts.init(ref.current!, undefined, { renderer: "svg" });
    chart.setOption(buildOption() as any);
    return () => chart.dispose();
  }, []);
  return <div ref={ref} style={{ position: "absolute", left: 0, top: 0, width: 719, height: 607 }} />;
}
